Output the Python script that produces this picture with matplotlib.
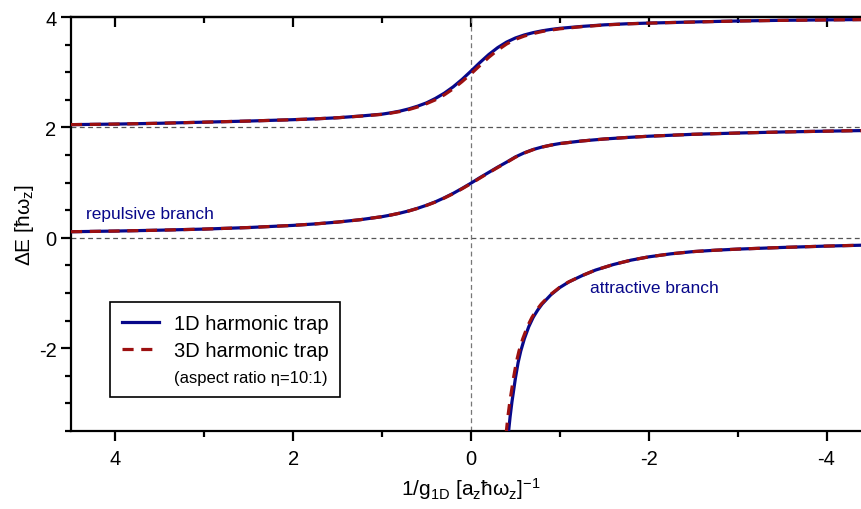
import matplotlib
matplotlib.use("Agg")
import matplotlib.pyplot as plt
from matplotlib.lines import Line2D

plt.rcParams['font.family'] = ['Liberation Sans', 'DejaVu Sans']
plt.rcParams['mathtext.fontset'] = 'custom'
plt.rcParams['mathtext.rm'] = 'Liberation Sans'
plt.rcParams['mathtext.it'] = 'Liberation Sans:italic'
plt.rcParams['axes.unicode_minus'] = False
plt.rcParams['lines.scale_dashes'] = False

# values
x_branch = [4.5, 4.0, 3.5, 3.0, 2.5, 2.0, 1.75, 1.5, 1.25, 1.0, 0.9, 0.8, 0.7, 0.6, 0.5, 0.4,
            0.3, 0.2, 0.1, 0.0, -0.1, -0.2, -0.3, -0.4, -0.5, -0.6, -0.7, -0.8, -0.9, -1.0,
            -1.25, -1.5, -1.75, -2.0, -2.5, -3.0, -3.5, -4.0, -4.5]

upper_1d = [2.050, 2.060, 2.075, 2.095, 2.115, 2.140, 2.155, 2.175, 2.205, 2.240, 2.265, 2.295,
            2.335, 2.385, 2.445, 2.525, 2.620, 2.735, 2.870, 3.020, 3.175, 3.320, 3.445, 3.545,
            3.620, 3.675, 3.717, 3.750, 3.775, 3.795, 3.830, 3.858, 3.877, 3.890, 3.910, 3.928,
            3.940, 3.948, 3.955]
upper_3d = [2.050, 2.060, 2.075, 2.095, 2.115, 2.140, 2.155, 2.175, 2.203, 2.236, 2.259, 2.287,
            2.323, 2.370, 2.430, 2.500, 2.590, 2.700, 2.830, 2.970, 3.120, 3.270, 3.400, 3.510,
            3.595, 3.655, 3.700, 3.737, 3.764, 3.786, 3.825, 3.855, 3.875, 3.889, 3.909, 3.927,
            3.939, 3.947, 3.954]

middle_1d = [0.110, 0.122, 0.138, 0.158, 0.186, 0.225, 0.252, 0.285, 0.327, 0.383, 0.413, 0.447,
             0.487, 0.535, 0.590, 0.652, 0.725, 0.805, 0.895, 0.990, 1.090, 1.185, 1.280, 1.370,
             1.465, 1.540, 1.600, 1.645, 1.680, 1.708, 1.755, 1.790, 1.817, 1.840, 1.875, 1.898,
             1.917, 1.932, 1.945]
middle_3d = [0.110, 0.122, 0.138, 0.158, 0.186, 0.225, 0.252, 0.285, 0.327, 0.383, 0.413, 0.447,
             0.486, 0.533, 0.587, 0.648, 0.720, 0.800, 0.888, 0.982, 1.082, 1.178, 1.273, 1.364,
             1.460, 1.536, 1.597, 1.643, 1.679, 1.707, 1.754, 1.790, 1.817, 1.840, 1.875, 1.898,
             1.917, 1.932, 1.945]

x_bound_1d = [-0.42, -0.44, -0.46, -0.48, -0.50, -0.53, -0.56, -0.60, -0.65, -0.70, -0.75, -0.80,
              -0.90, -1.00, -1.10, -1.25, -1.40, -1.60, -1.80, -2.00, -2.25, -2.50, -2.75, -3.00,
              -3.50, -4.00, -4.50]
bound_1d = [-3.55, -3.24, -2.98, -2.76, -2.54, -2.26, -2.05, -1.83, -1.61, -1.44, -1.31, -1.20,
            -1.03, -0.90, -0.80, -0.685, -0.585, -0.485, -0.405, -0.345, -0.290, -0.250, -0.225,
            -0.205, -0.175, -0.150, -0.130]
x_bound_3d = [-0.395, -0.415, -0.436, -0.457, -0.478, -0.509, -0.540, -0.582, -0.634, -0.686,
              -0.738, -0.790, -0.893, -0.995, -1.098, -1.249, -1.40, -1.60, -1.80, -2.00, -2.25,
              -2.50, -2.75, -3.00, -3.50, -4.00, -4.50]
bound_3d = [-3.55, -3.24, -2.98, -2.76, -2.54, -2.26, -2.05, -1.83, -1.61, -1.44, -1.31, -1.20,
            -1.03, -0.90, -0.80, -0.685, -0.585, -0.485, -0.405, -0.345, -0.290, -0.250, -0.225,
            -0.205, -0.175, -0.150, -0.130]

blue = '#08088a'
red = '#9c1010'
dash = (8, 5.5)

fig = plt.figure(figsize=(8.62, 5.10), dpi=100)
ax = fig.add_axes([71 / 862, 78 / 510, 800 / 862, 414 / 510])

for y0 in [0, 2]:
    ax.axhline(y0, color='#555555', lw=0.9, ls=(0, (3.5, 2.5)), zorder=1)
ax.axvline(0, color='#777777', lw=0.9, ls=(0, (3.5, 2.5)), zorder=1)

for yv in [upper_1d, middle_1d]:
    ax.plot(x_branch, yv, color=blue, lw=2.3, zorder=3)
ax.plot(x_bound_1d, bound_1d, color=blue, lw=2.3, zorder=3)
for yv in [upper_3d, middle_3d]:
    ax.plot(x_branch, yv, color=red, lw=2.3, dashes=dash, zorder=4)
ax.plot(x_bound_3d, bound_3d, color=red, lw=2.3, dashes=dash, zorder=4)

major_x = [4, 2, 0, -2, -4]
minor_x = [3, 1, -1, -3]
major_y = [-2, 0, 2, 4]
minor_y = [-3.5, -3, -2.5, -1.5, -1, -0.5, 0.5, 1, 1.5, 2.5, 3, 3.5]

ax.set_xlim(4.5, -4.5)
ax.set_ylim(-3.5, 4)
ax.set_xticks(major_x)
ax.set_xticks(minor_x, minor=True)
ax.set_yticks(major_y)
ax.set_yticks(minor_y, minor=True)
ax.tick_params(which='both', direction='out', width=1.6, labelsize=14.5, top=False, right=False)
ax.tick_params(which='major', length=7)
ax.tick_params(which='minor', length=4)
ax.tick_params(axis='x', pad=6)

secx = ax.secondary_xaxis('top')
secx.set_xticks(major_x)
secx.set_xticks(minor_x, minor=True)
secx.tick_params(which='both', direction='in', width=1.6, labeltop=False)
secx.tick_params(which='major', length=7)
secx.tick_params(which='minor', length=4)
secx.spines['top'].set_linewidth(1.6)

secy = ax.secondary_yaxis('right')
secy.set_yticks(major_y)
secy.set_yticks(minor_y, minor=True)
secy.tick_params(which='both', direction='in', width=1.6, labelright=False)
secy.tick_params(which='major', length=7)
secy.tick_params(which='minor', length=4)

for s in ax.spines.values():
    s.set_linewidth(1.6)

ax.set_xlabel('1/g$_\\mathrm{1D}$ [a$_\\mathrm{z}$ħω$_\\mathrm{z}$]$^\\mathrm{-1}$', fontsize=15, labelpad=5)
ax.set_ylabel('ΔE [ħω$_\\mathrm{z}$]', fontsize=15, labelpad=2)

ax.text(4.33, 0.36, 'repulsive branch', color=blue, fontsize=12.5, va='baseline', ha='left')
ax.text(-1.34, -0.98, 'attractive branch', color=blue, fontsize=12.5, va='baseline', ha='left')

handles = [Line2D([], [], color=blue, lw=2.3),
           Line2D([], [], color=red, lw=2.3, dashes=dash),
           Line2D([], [], color='none')]
leg = ax.legend(handles, ['1D harmonic trap', '3D harmonic trap', '(aspect ratio η=10:1)'],
                loc='upper left', bbox_to_anchor=(0.049, 0.312), borderaxespad=0,
                fancybox=False, framealpha=1, edgecolor='black', fontsize=14.5,
                handlelength=1.8, handletextpad=0.75, labelspacing=0.4, borderpad=0.6)
leg.get_frame().set_linewidth(1.2)
leg.get_texts()[2].set_fontsize(12)

fig.savefig('out.png', dpi=100)
